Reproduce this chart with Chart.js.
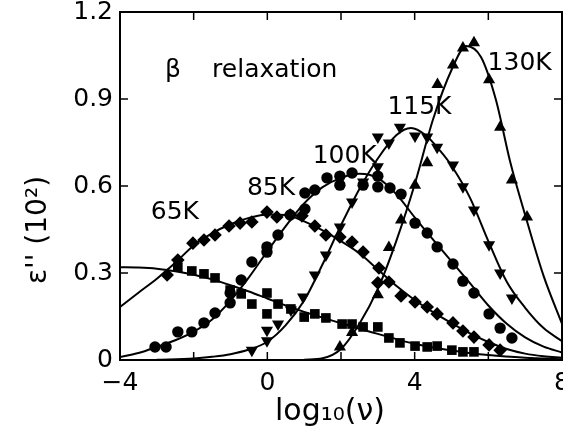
<!DOCTYPE html>
<html>
<head>
<meta charset="utf-8">
<script src="https://cdn.jsdelivr.net/npm/chart.js@4.4.1/dist/chart.umd.min.js"></script>
<style>
    html, body { margin: 0; padding: 0; background: #fff; }
    #wrap { width: 563px; height: 428px; }
</style>
</head>
<body>
<div id="wrap"><canvas id="relaxChart" width="563" height="428"></canvas></div>
<script>
// axis ticks
const xTicks = [-4, -2, 0, 2, 4, 6, 8];
const xTickLabels = ['\u22124', '', '0', '', '4', '', '8'];
const yTicks = [0, 0.3, 0.6, 0.9, 1.2];
const yTickLabels = ['0', '0.3', '0.6', '0.9', '1.2'];

// 65K - squares
const sq65X = [-2.43, -2.05, -1.72, -1.42, -1.01, -0.71, -0.42, -0.01, -0.01, 0.29, 0.64, 1.0, 1.29, 1.59, 2.03, 2.30, 2.60, 3.0, 3.30, 3.60, 4.01, 4.34, 4.61, 5.01, 5.31, 5.61];
const sq65Y = [0.32, 0.307, 0.297, 0.283, 0.241, 0.228, 0.193, 0.231, 0.159, 0.193, 0.176, 0.148, 0.159, 0.145, 0.124, 0.124, 0.114, 0.114, 0.076, 0.059, 0.048, 0.045, 0.048, 0.034, 0.028, 0.028];

// 85K - diamonds
const dm85X = [-2.72, -2.43, -2.02, -1.72, -1.42, -1.04, -0.74, -0.42, -0.01, 0.26, 0.62, 0.94, 1.29, 1.59, 1.97, 2.30, 2.60, 3.03, 3.0, 3.30, 3.63, 4.01, 4.34, 4.61, 5.04, 5.31, 5.61, 6.02, 6.32];
const dm85Y = [0.293, 0.345, 0.403, 0.414, 0.431, 0.462, 0.472, 0.476, 0.51, 0.493, 0.5, 0.497, 0.462, 0.431, 0.424, 0.407, 0.372, 0.317, 0.266, 0.269, 0.221, 0.2, 0.183, 0.159, 0.128, 0.1, 0.079, 0.052, 0.034];

// 100K - circles
const ci100X = [-3.05, -2.75, -2.43, -2.05, -1.72, -1.42, -1.01, -1.01, -0.71, -0.42, -0.01, -0.01, 0.29, 0.62, 1.02, 1.02, 1.29, 1.62, 1.97, 1.97, 2.30, 2.60, 3.0, 3.0, 3.33, 3.63, 4.01, 4.34, 4.61, 5.04, 5.31, 5.61, 6.02, 6.32, 6.64];
const ci100Y = [0.045, 0.045, 0.097, 0.097, 0.128, 0.162, 0.197, 0.231, 0.276, 0.338, 0.39, 0.372, 0.431, 0.5, 0.521, 0.576, 0.586, 0.628, 0.634, 0.603, 0.645, 0.603, 0.634, 0.597, 0.593, 0.572, 0.472, 0.438, 0.39, 0.331, 0.272, 0.231, 0.159, 0.11, 0.076];

// 115K - inverted triangles
const it115X = [-0.42, -0.01, -0.01, 0.29, 0.64, 0.97, 1.29, 1.59, 1.97, 2.30, 2.60, 3.0, 3.0, 3.30, 3.60, 4.01, 4.34, 4.61, 5.04, 5.31, 5.61, 6.02, 6.32, 6.64];
const it115Y = [0.034, 0.066, 0.103, 0.124, 0.172, 0.217, 0.293, 0.362, 0.459, 0.545, 0.614, 0.666, 0.769, 0.748, 0.803, 0.772, 0.769, 0.734, 0.672, 0.597, 0.517, 0.397, 0.3, 0.214];

// 130K - triangles
const tr130X = [1.97, 2.30, 3.0, 3.30, 3.63, 4.01, 4.34, 4.62, 5.04, 5.31, 5.61, 6.02, 6.32, 6.64, 7.05];
const tr130Y = [0.045, 0.095, 0.225, 0.388, 0.483, 0.603, 0.68, 0.95, 1.017, 1.076, 1.094, 0.966, 0.803, 0.621, 0.493];

// fitted curves
const c65X = [-4, -3.5, -3, -2.5, -2, -1.5, -1, -0.5, 0, 0.5, 1, 1.5, 2, 2.5, 3, 3.5, 4, 4.5, 5, 5.5, 6, 7, 8];
const c65Y = [0.32, 0.319, 0.315, 0.306, 0.294, 0.278, 0.258, 0.236, 0.212, 0.188, 0.166, 0.146, 0.127, 0.108, 0.09, 0.072, 0.056, 0.043, 0.033, 0.024, 0.017, 0.008, 0.003];
const c85X = [-4, -3.5, -3, -2.5, -2, -1.5, -1, -0.5, 0, 0.5, 1, 1.5, 2, 2.5, 3, 3.5, 4, 4.5, 5, 5.5, 6, 6.5, 7, 7.5, 8];
const c85Y = [0.183, 0.232, 0.28, 0.335, 0.395, 0.437, 0.468, 0.49, 0.502, 0.5, 0.478, 0.447, 0.41, 0.368, 0.312, 0.256, 0.207, 0.165, 0.127, 0.092, 0.062, 0.038, 0.022, 0.013, 0.008];
const c100X = [-4, -3.5, -3, -2.5, -2, -1.5, -1, -0.5, 0, 0.5, 1, 1.5, 2, 2.5, 3, 3.5, 4, 4.5, 5, 5.5, 6, 6.5, 7, 7.5, 8];
const c100Y = [0.01, 0.024, 0.045, 0.068, 0.098, 0.14, 0.205, 0.285, 0.375, 0.462, 0.54, 0.596, 0.628, 0.642, 0.627, 0.572, 0.492, 0.415, 0.34, 0.265, 0.188, 0.125, 0.078, 0.046, 0.026];
const c115X = [-3, -2, -1.5, -1, -0.5, 0, 0.5, 1, 1.5, 2, 2.5, 3, 3.5, 3.9, 4.3, 4.7, 5, 5.5, 6, 6.5, 7, 7.5, 8];
const c115Y = [0.001, 0.005, 0.011, 0.02, 0.036, 0.063, 0.12, 0.205, 0.33, 0.465, 0.59, 0.695, 0.775, 0.8, 0.775, 0.72, 0.67, 0.56, 0.41, 0.27, 0.18, 0.11, 0.065];
const c130X = [1, 1.5, 2, 2.5, 3, 3.5, 4, 4.5, 5, 5.4, 5.8, 6.2, 6.6, 7, 7.5, 8];
const c130Y = [0.001, 0.006, 0.038, 0.125, 0.245, 0.41, 0.605, 0.83, 1.0, 1.083, 1.045, 0.9, 0.68, 0.5, 0.29, 0.125];

// text placed on the plot (data coordinates)
const noteTexts = ['\u03b2', 'relaxation', '65K', '85K', '100K', '115K', '130K'];
const noteX = [-2.78, -1.50, -2.51, 0.10, 2.10, 4.13, 6.85];
const noteY = [1.0, 1.0, 0.507, 0.59, 0.703, 0.872, 1.021];
const noteAlign = ['left', 'left', 'center', 'center', 'center', 'center', 'center'];

const FONT = '"DejaVu Sans", sans-serif';

function toPoints(xs, ys) {
    return xs.map(function(x, i) { return { x: x, y: ys[i] }; });
}

function curve(xs, ys) {
    return {
        type: 'line',
        data: toPoints(xs, ys),
        borderColor: '#000',
        borderWidth: 2,
        pointRadius: 0,
        fill: false,
        cubicInterpolationMode: 'monotone'
    };
}

function markers(xs, ys, style, radius, rotation) {
    return {
        type: 'scatter',
        data: toPoints(xs, ys),
        pointStyle: style,
        pointRadius: radius,
        pointRotation: rotation || 0,
        backgroundColor: '#000',
        borderColor: '#000',
        borderWidth: 0,
        showLine: false
    };
}

// frame, inward ticks, titles and notes
const decorPlugin = {
    id: 'decor',
    afterDraw: function(chart) {
        const ctx = chart.ctx;
        const a = chart.chartArea;
        const xs = chart.scales.x;
        const ys = chart.scales.y;
        ctx.save();
        ctx.strokeStyle = '#000';
        ctx.lineWidth = 2;
        ctx.strokeRect(a.left, a.top, a.right - a.left, a.bottom - a.top);

        ctx.lineWidth = 1.5;
        ctx.beginPath();
        xTicks.forEach(function(v) {
            const px = xs.getPixelForValue(v);
            ctx.moveTo(px, a.bottom); ctx.lineTo(px, a.bottom - 8);
            ctx.moveTo(px, a.top); ctx.lineTo(px, a.top + 8);
        });
        yTicks.forEach(function(v) {
            const py = ys.getPixelForValue(v);
            ctx.moveTo(a.left, py); ctx.lineTo(a.left + 8, py);
            ctx.moveTo(a.right, py); ctx.lineTo(a.right - 8, py);
        });
        ctx.stroke();

        ctx.fillStyle = '#000';
        ctx.textBaseline = 'middle';
        ctx.font = '25px ' + FONT;
        noteTexts.forEach(function(t, i) {
            ctx.textAlign = noteAlign[i];
            ctx.fillText(t, xs.getPixelForValue(noteX[i]), ys.getPixelForValue(noteY[i]));
        });

        // axis titles
        ctx.textAlign = 'center';
        ctx.font = '30px ' + FONT;
        ctx.fillText('log\u2081\u2080(\u03bd)', 330, 412);

        ctx.translate(39, 230);
        ctx.rotate(-Math.PI / 2);
        ctx.font = '28px ' + FONT;
        ctx.fillText("\u03b5'' (10\u00b2)", 0, 0);
        ctx.restore();
    }
};

document.addEventListener('DOMContentLoaded', function() {
    const ctx = document.getElementById('relaxChart').getContext('2d');

    const relaxChart = new Chart(ctx, {
        type: 'scatter',
        data: {
            datasets: [
                curve(c65X, c65Y),
                curve(c85X, c85Y),
                curve(c100X, c100Y),
                curve(c115X, c115Y),
                curve(c130X, c130Y),
                markers(sq65X, sq65Y, 'rect', 6.8),
                markers(dm85X, dm85Y, 'rectRot', 6.8),
                markers(ci100X, ci100Y, 'circle', 5.7),
                markers(it115X, it115Y, 'triangle', 7, 180),
                markers(tr130X, tr130Y, 'triangle', 7)
            ]
        },
        options: {
            responsive: false,
            animation: false,
            events: [],
            layout: {
                autoPadding: false,
                padding: { top: 12, right: 1, left: 0, bottom: 0 }
            },
            plugins: {
                legend: { display: false },
                tooltip: { enabled: false }
            },
            scales: {
                x: {
                    type: 'linear',
                    min: -4,
                    max: 8,
                    afterBuildTicks: function(scale) {
                        scale.ticks = xTicks.map(function(v) { return { value: v }; });
                    },
                    afterFit: function(scale) {
                        scale.height = 68;
                        scale.paddingLeft = 0;
                        scale.paddingRight = 0;
                    },
                    ticks: {
                        autoSkip: false,
                        maxRotation: 0,
                        padding: 8,
                        color: '#000',
                        font: { family: FONT, size: 25 },
                        callback: function(value) {
                            const i = xTicks.indexOf(value);
                            return i >= 0 ? xTickLabels[i] : '';
                        }
                    },
                    grid: { display: false, drawTicks: false },
                    border: { display: false }
                },
                y: {
                    type: 'linear',
                    min: 0,
                    max: 1.2,
                    afterBuildTicks: function(scale) {
                        scale.ticks = yTicks.map(function(v) { return { value: v }; });
                    },
                    afterFit: function(scale) {
                        scale.width = 120;
                        scale.paddingTop = 0;
                        scale.paddingBottom = 0;
                    },
                    ticks: {
                        padding: 7,
                        color: '#000',
                        font: { family: FONT, size: 25 },
                        callback: function(value) {
                            const i = yTicks.indexOf(value);
                            return i >= 0 ? yTickLabels[i] : '';
                        }
                    },
                    grid: { display: false, drawTicks: false },
                    border: { display: false }
                }
            }
        },
        plugins: [decorPlugin]
    });
});
</script>
</body>
</html>
